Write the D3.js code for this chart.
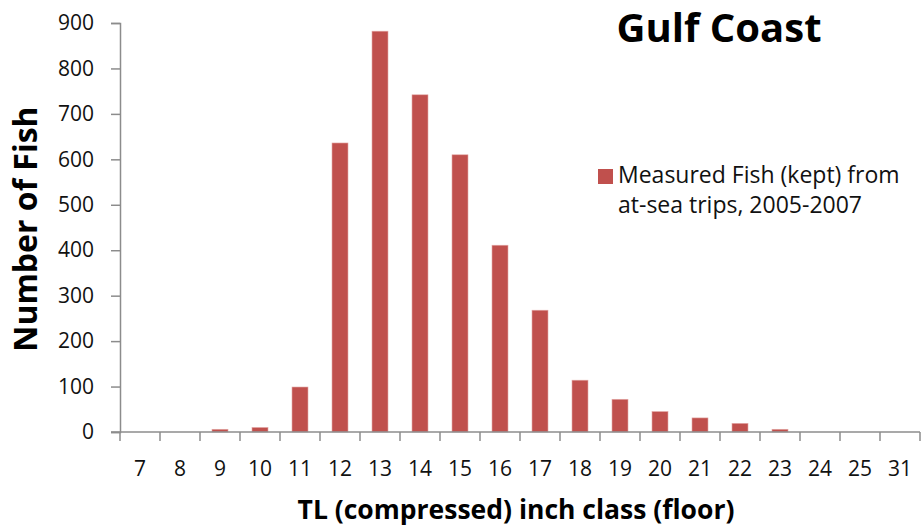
<!DOCTYPE html>
<html>
<head>
<meta charset="utf-8">
<script src="https://cdn.jsdelivr.net/npm/d3@7"></script>
<style>
  body { margin: 0; background: #fff; }
  svg text { font-family: "Open Sans", Lato, sans-serif; }
</style>
</head>
<body>
<div id="chart"></div>
<script>
// dados
const categories = ['7', '8', '9', '10', '11', '12', '13', '14', '15', '16', '17', '18', '19', '20', '21', '22', '23', '24', '25', '31'];
const fishKept = [0, 0, 6, 10, 99, 636, 882, 742, 610, 411, 268, 114, 72, 45, 31, 19, 6, 0, 0, 0];
const yTicks = [0, 100, 200, 300, 400, 500, 600, 700, 800, 900];

const W = 922, H = 527;
const plotLeft = 120, plotRight = 920, plotTop = 23, plotBottom = 432;
const barColor = '#C0504D';
const axisColor = '#8c8c8c';

const svg = d3.select('#chart').append('svg')
  .attr('width', W).attr('height', H);

const x = d3.scaleBand()
  .domain(categories)
  .range([plotLeft, plotRight])
  .paddingInner(0.6)
  .paddingOuter(0.3);

const y = d3.scaleLinear().domain([0, 900]).range([plotBottom, plotTop]);

// barras
svg.append('g').selectAll('rect')
  .data(fishKept)
  .join('rect')
  .attr('x', (d, i) => x(categories[i]))
  .attr('width', x.bandwidth())
  .attr('y', d => y(d))
  .attr('height', d => y(0) - y(d))
  .attr('fill', barColor)
  .attr('stroke', '#e3a9a7')
  .attr('stroke-width', 0.6);

// eixo Y
const yAxis = svg.append('g')
  .attr('transform', `translate(${plotLeft},0)`)
  .call(d3.axisLeft(y).tickValues(yTicks).tickSize(9).tickPadding(17));
yAxis.select('.domain').attr('stroke', axisColor).attr('stroke-width', 1.5);
yAxis.selectAll('.tick line').attr('stroke', axisColor).attr('stroke-width', 1.5);
yAxis.selectAll('.tick text')
  .style('font-size', '21px').attr('fill', '#111');

// eixo X
const xg = svg.append('g');
xg.append('line')
  .attr('x1', plotLeft - 9).attr('x2', plotRight)
  .attr('y1', plotBottom).attr('y2', plotBottom)
  .attr('stroke', axisColor).attr('stroke-width', 1.5);
const gap = (x.step() - x.bandwidth()) / 2;
const bounds = categories.map(c => x(c) - gap).concat([plotRight]);
xg.selectAll('.bt')
  .data(bounds)
  .join('line')
  .attr('x1', d => d).attr('x2', d => d)
  .attr('y1', plotBottom).attr('y2', plotBottom + 9)
  .attr('stroke', axisColor).attr('stroke-width', 1.5);
xg.selectAll('.xl')
  .data(categories)
  .join('text')
  .attr('x', d => x(d) + x.bandwidth() / 2)
  .attr('y', 476)
  .attr('text-anchor', 'middle')
  .style('font-size', '21px')
  .attr('fill', '#111')
  .text(d => d);

// títulos
svg.append('text')
  .attr('x', 516).attr('y', 519)
  .attr('text-anchor', 'middle')
  .style('font-size', '26.5px').style('font-weight', 'bold')
  .text('TL (compressed) inch class (floor)');

svg.append('text')
  .attr('transform', 'translate(37,229) rotate(-90)')
  .attr('text-anchor', 'middle')
  .style('font-size', '32px').style('font-weight', 'bold')
  .text('Number of Fish');

svg.append('text')
  .attr('x', 719).attr('y', 42)
  .attr('text-anchor', 'middle')
  .style('font-size', '40px').style('font-weight', 'bold')
  .text('Gulf Coast');

// legenda
const lg = svg.append('g').attr('transform', 'translate(598,169)');
lg.append('rect').attr('width', 15).attr('height', 15).attr('fill', barColor);
lg.append('text').attr('x', 20).attr('y', 14)
  .style('font-size', '23px').attr('fill', '#111')
  .text('Measured Fish (kept) from');
lg.append('text').attr('x', 20).attr('y', 44)
  .style('font-size', '23px').attr('fill', '#111')
  .text('at-sea trips, 2005-2007');
</script>
</body>
</html>
